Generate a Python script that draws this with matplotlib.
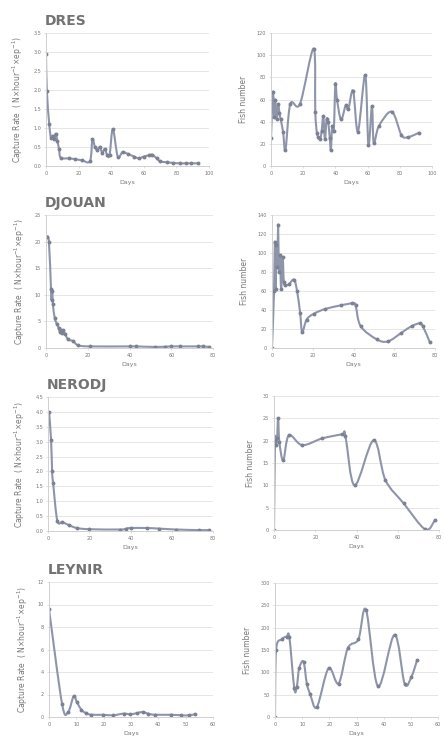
import numpy as np
import matplotlib
matplotlib.use("Agg")
import matplotlib.pyplot as plt
from matplotlib.path import Path
from matplotlib.patches import PathPatch

# ---------------- data ----------------
dres_cap_days = [0, 0.5, 2, 3, 4, 5, 6, 7, 8, 9, 14, 18, 22, 27, 28.5, 30, 31.5, 33, 34.5, 36, 37.5, 39, 41, 44, 47, 50, 54, 57, 60, 63, 65, 68, 70, 74, 78, 82, 86, 89, 93]
dres_cap_vals = [2.95, 1.98, 1.1, 0.75, 0.8, 0.72, 0.85, 0.65, 0.45, 0.22, 0.2, 0.18, 0.15, 0.13, 0.7, 0.5, 0.42, 0.5, 0.35, 0.45, 0.3, 0.28, 0.97, 0.25, 0.37, 0.32, 0.25, 0.2, 0.25, 0.28, 0.3, 0.2, 0.12, 0.1, 0.08, 0.07, 0.07, 0.07, 0.07]

dres_fish_days = [0, 1.2, 2, 2.6, 3.5, 4.5, 5.2, 6, 7.5, 9, 12, 18, 26.5, 27.5, 28.5, 29.5, 30.5, 31.5, 32.5, 33.5, 34.5, 35.5, 36.5, 37.2, 38, 39, 40, 41, 43.5, 46.5, 48, 51, 54, 58.5, 60.5, 62.7, 63.8, 67, 75, 81, 85, 92]
dres_fish_vals = [25, 67, 44, 60, 42, 56, 48, 42, 31, 14.5, 56, 56, 106, 49, 30, 26, 24, 32, 45, 24, 42, 40, 25, 14.5, 36, 32, 74, 60, 42, 55, 51, 68, 31, 82, 19, 54, 21, 36, 49, 28, 26, 30]

djouan_cap_days = [0.3, 1.4, 2.4, 2.7, 3.0, 3.3, 4.2, 5.2, 6.0, 6.6, 7.2, 7.8, 8.3, 9.2, 10.6, 13, 15.4, 21, 40, 43, 52, 57, 60, 64, 73, 75, 78]
djouan_cap_vals = [20.9, 20.0, 11.0, 9.0, 10.8, 8.2, 5.6, 4.5, 3.8, 3.0, 3.4, 2.8, 3.3, 2.6, 1.6, 1.3, 0.5, 0.3, 0.3, 0.3, 0.2, 0.25, 0.3, 0.3, 0.3, 0.3, 0.2]

djouan_fish_days = [0, 1.0, 1.4, 1.8, 2.2, 2.6, 3.0, 3.4, 3.9, 4.5, 5.2, 5.8, 6.5, 8.2, 10.8, 12.3, 13.8, 14.8, 17, 20.5, 26, 34, 39.5, 41, 43.5, 51.5, 57, 63.5, 68.5, 72.5, 74, 77.5]
djouan_fish_vals = [0, 60, 112, 62, 108, 85, 130, 80, 98, 62, 96, 70, 66, 67, 72, 60, 37, 17, 30, 36, 41, 45, 47, 45, 23, 9, 7, 16, 23, 26, 23, 6]

nerodj_cap_days = [0.5, 1.5, 2.0, 2.5, 4.5, 7, 10, 14, 20, 35, 38, 40, 48, 54, 62, 73, 78]
nerodj_cap_vals = [4.0, 3.05, 2.0, 1.6, 0.35, 0.3, 0.2, 0.1, 0.06, 0.05, 0.08, 0.1, 0.1, 0.08, 0.05, 0.03, 0.03]

nerodj_fish_days = [0, 0.5, 1.0, 1.5, 2.0, 2.6, 4.5, 7.2, 13.7, 23.3, 33, 34.6, 39.1, 48.3, 54, 62.8, 73.3, 78]
nerodj_fish_vals = [0, 20, 19, 20.5, 25, 19.7, 15.6, 21.2, 19, 20.5, 21.4, 21.1, 10, 20.1, 11.2, 6, 0.15, 2.2]

leynir_cap_days = [0, 4.8, 7.0, 9.0, 10.2, 11.8, 13.4, 15.5, 19.8, 23.4, 27.3, 29.8, 32.2, 34.4, 36.2, 38.7, 44.8, 48.4, 51.2, 53.3]
leynir_cap_vals = [9.6, 1.13, 0.44, 1.84, 1.33, 0.65, 0.36, 0.2, 0.2, 0.15, 0.3, 0.24, 0.35, 0.44, 0.3, 0.2, 0.2, 0.15, 0.15, 0.24]

leynir_fish_days = [0, 0.4, 2.5, 4.3, 5.3, 7.1, 8.0, 8.9, 10.5, 11.7, 12.9, 15.4, 19.7, 23.4, 26.8, 30.7, 33.5, 37.9, 44, 47.7, 50.2, 52.3]
leynir_fish_vals = [0, 150, 174, 180, 178, 64, 67, 109, 124, 75, 52, 22, 109, 75, 154, 174, 240, 69, 184, 75, 90, 127]

names = ["DRES", "DJOUAN", "NERODJ", "LEYNIR"]
cap_data = [(dres_cap_days, dres_cap_vals), (djouan_cap_days, djouan_cap_vals),
            (nerodj_cap_days, nerodj_cap_vals), (leynir_cap_days, leynir_cap_vals)]
fish_data = [(dres_fish_days, dres_fish_vals), (djouan_fish_days, djouan_fish_vals),
             (nerodj_fish_days, nerodj_fish_vals), (leynir_fish_days, leynir_fish_vals)]

cap_ylim = [(0, 3.5, 0.5), (0, 25, 5), (0, 4.5, 0.5), (0, 12, 2)]
cap_xlim = [(0, 100, 20), (0, 80, 20), (0, 80, 20), (0, 60, 10)]
fish_ylim = [(0, 120, 20), (0, 140, 20), (0, 30, 5), (0, 300, 50)]
fish_xlim = [(0, 100, 20), (0, 80, 20), (0, 80, 20), (0, 60, 10)]

# ---------------- layout (pixels) ----------------
W, H = 444, 738
left_boxes = [(46, 209, 33, 166), (46, 213, 215, 348), (48, 213, 397, 531), (49, 213, 582, 717)]
right_boxes = [(271, 432, 33, 166), (272, 435, 215, 348), (274, 439, 396, 530), (275, 438, 583, 717)]

LINE = "#8e95ab"
MARK = "#7c8194"
GRID = "#e6e6e6"
AX = "#d0d0d0"
TXT = "#777777"


def smooth_path(x, y):
    x = np.asarray(x, float)
    y = np.asarray(y, float)
    P = np.column_stack([x, y])
    n = len(P)
    verts = [P[0]]
    codes = [Path.MOVETO]
    for i in range(n - 1):
        p0 = P[i - 1] if i > 0 else P[i]
        p1 = P[i]
        p2 = P[i + 1]
        p3 = P[i + 2] if i + 2 < n else P[i + 1]
        c1 = p1 + (p2 - p0) / 6.0
        c2 = p2 - (p3 - p1) / 6.0
        verts += [c1, c2, p2]
        codes += [Path.CURVE4] * 3
    return Path(verts, codes)


def style(ax, xl, yl, ylabel):
    ax.set_xlim(xl[0], xl[1])
    ax.set_ylim(yl[0], yl[1])
    ax.set_xticks(np.arange(xl[0], xl[1] + 1e-9, xl[2]))
    ax.set_yticks(np.arange(yl[0], yl[1] + 1e-9, yl[2]))
    ax.yaxis.grid(True, color=GRID, linewidth=0.7)
    ax.set_axisbelow(True)
    for s in ["top", "right"]:
        ax.spines[s].set_visible(False)
    for s in ["left", "bottom"]:
        ax.spines[s].set_color(AX)
        ax.spines[s].set_linewidth(0.7)
    ax.tick_params(axis="both", labelsize=3.5, colors=TXT, length=1.5, width=0.5, pad=2)
    ax.tick_params(axis="both", color=AX)
    ax.set_xlabel("Days", fontsize=4.5, color=TXT, labelpad=3)
    ax.set_ylabel(ylabel, fontsize=5.5, color=TXT, labelpad=6)


def draw(ax, x, y):
    p = PathPatch(smooth_path(x, y), fill=False, edgecolor=LINE, linewidth=1.5,
                  transform=ax.transData, capstyle="round", joinstyle="round")
    ax.add_patch(p)
    ax.plot(x, y, linestyle="none", marker="o", markersize=1.8, color=MARK)


fig = plt.figure(figsize=(W / 100, H / 100), dpi=100)
fig.patch.set_facecolor("white")

cap_label = "Capture Rate  ( N×hour$^{-1}$×ep$^{-1}$)"

for i in range(4):
    l, r, t, b = left_boxes[i]
    ax = fig.add_axes([l / W, 1 - b / H, (r - l) / W, (b - t) / H])
    style(ax, cap_xlim[i], cap_ylim[i], cap_label)
    draw(ax, *cap_data[i])
    fig.text(l / W - 0.002, 1 - (t - 12) / H, names[i], fontsize=10, fontweight="bold",
             color="#737373", va="center", ha="left")

    l, r, t, b = right_boxes[i]
    ax2 = fig.add_axes([l / W, 1 - b / H, (r - l) / W, (b - t) / H])
    style(ax2, fish_xlim[i], fish_ylim[i], "Fish number")
    draw(ax2, *fish_data[i])

fig.savefig("out.png", dpi=100, facecolor="white")
